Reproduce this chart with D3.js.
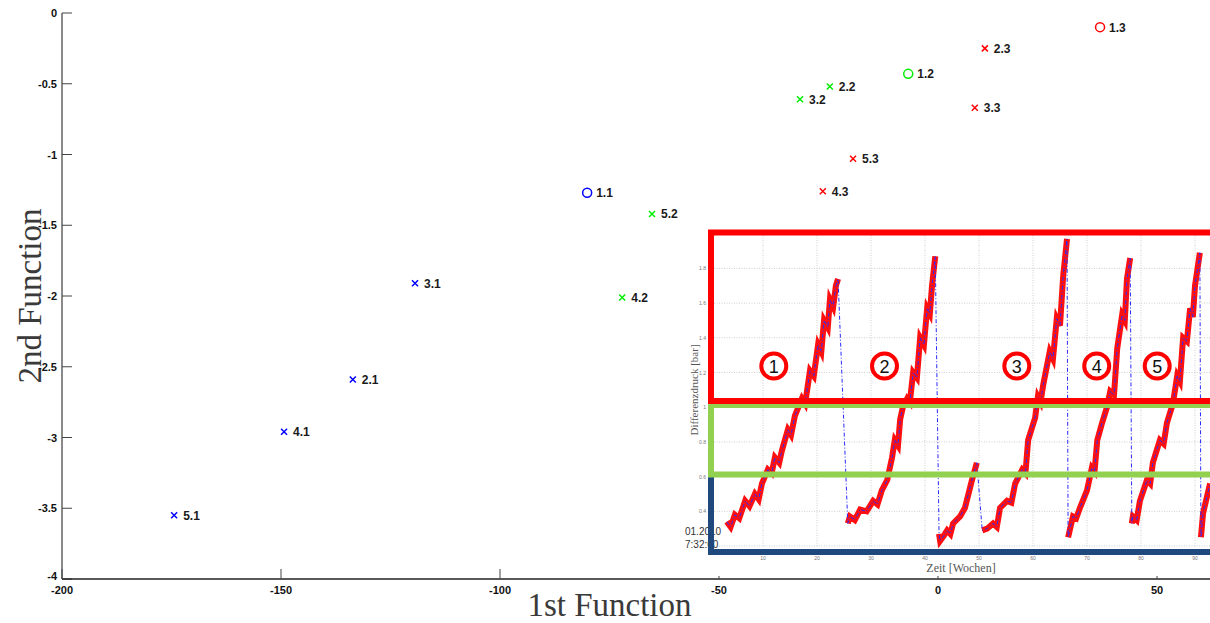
<!DOCTYPE html>
<html>
<head>
	<meta charset="utf-8">
	<title>1st / 2nd Function</title>
	<style type="text/css">
		body{
			margin: 0;
			background-color: #fff;
		}
		svg{
			display: block;
			background-color: #fff;
		}
		.tickLabel{
			font-family: "Liberation Sans", Arial, sans-serif;
			font-weight: bold;
			font-size: 11px;
			fill: #111;
		}
		.ptLabel{
			font-family: "Liberation Sans", Arial, sans-serif;
			font-weight: bold;
			font-size: 12px;
			fill: #1a1a1a;
		}
		.axisTitle{
			font-family: "Liberation Serif", "DejaVu Serif", serif;
			font-size: 33px;
			fill: #3a3a3a;
		}
		.inTick{
			font-family: "Liberation Sans", Arial, sans-serif;
			font-size: 5px;
			fill: #777;
		}
		.inTitle{
			font-family: "Liberation Serif", serif;
			font-size: 11px;
			fill: #555;
		}
	</style>
	<script type="text/javascript" src="https://cdn.jsdelivr.net/npm/d3@7"></script>
</head>
<body>
<div id="chart"></div>

<script type="text/javascript">
	// scatter points (1st function, 2nd function)
	var labels = ['1.1', '2.1', '3.1', '4.1', '5.1',
		'1.2', '2.2', '3.2', '4.2', '5.2',
		'1.3', '2.3', '3.3', '4.3', '5.3'];
	var xVals = [-80.1, -133.6, -119.4, -149.3, -174.4,
		-6.8, -24.7, -31.5, -72.1, -65.3,
		37.0, 10.7, 8.4, -26.3, -19.4];
	var yVals = [-1.27, -2.59, -1.91, -2.96, -3.55,
		-0.43, -0.52, -0.61, -2.01, -1.42,
		-0.10, -0.25, -0.67, -1.26, -1.03];
	var groups = [1, 1, 1, 1, 1, 2, 2, 2, 2, 2, 3, 3, 3, 3, 3];
	var xTicks = [-200, -150, -100, -50, 0, 50];
	var yTicks = [0, -0.5, -1, -1.5, -2, -2.5, -3, -3.5, -4];

	// inset: Differenzdruck [bar] over Zeit [Wochen], one array per rise
	var rises = [
		[[3.3,0.34],[4.0,0.31],[4.8,0.38],[5.6,0.36],[6.7,0.46],[7.5,0.43],[8.5,0.50],[9.2,0.47],[9.8,0.56],[10.9,0.64],[11.6,0.62],[12.2,0.71],[13.0,0.68],[13.5,0.75],[14.6,0.87],[15.2,0.84],[15.9,0.95],[17.2,1.05],[17.8,1.02],[18.7,1.21],[19.4,1.18],[20.2,1.36],[20.8,1.32],[21.3,1.50],[22.0,1.46],[22.4,1.62],[23.0,1.58],[23.5,1.70],[23.9,1.74]],
		[[25.7,0.33],[26.1,0.37],[27.0,0.35],[28.0,0.41],[29.2,0.40],[30.4,0.46],[31.2,0.44],[32.0,0.52],[33.0,0.58],[33.9,0.71],[34.4,0.81],[35.0,0.78],[35.4,0.93],[35.9,1.00],[36.7,1.05],[37.2,1.03],[37.8,1.20],[38.5,1.17],[39.1,1.40],[39.8,1.36],[40.4,1.57],[40.9,1.54],[41.3,1.70],[41.9,1.87]],
		[[42.6,0.27],[42.8,0.23],[43.5,0.26],[44.1,0.29],[44.7,0.27],[45.2,0.33],[46.5,0.37],[47.4,0.42],[48.7,0.58],[49.6,0.68]],
		[[50.6,0.29],[51.5,0.30],[52.6,0.33],[53.3,0.31],[53.9,0.42],[55.2,0.46],[56.0,0.45],[56.7,0.56],[58.0,0.64],[58.6,0.62],[59.1,0.81],[60.4,0.94],[60.9,1.06],[61.4,1.03],[61.9,1.13],[63.1,1.32],[63.7,1.28],[64.4,1.51],[65.0,1.47],[65.6,1.76],[66.3,1.97]],
		[[66.5,0.25],[67.4,0.37],[68.0,0.36],[68.7,0.42],[70.0,0.52],[70.9,0.65],[71.4,0.63],[71.9,0.81],[72.8,0.91],[73.7,1.00],[74.3,1.09],[75.0,1.07],[75.6,1.34],[76.5,1.53],[77.0,1.50],[77.4,1.74],[78.0,1.86]],
		[[78.3,0.33],[78.5,0.37],[79.2,0.35],[79.8,0.46],[81.1,0.58],[81.7,0.56],[82.2,0.68],[83.5,0.81],[84.2,0.79],[84.8,0.91],[85.9,1.02],[86.7,1.18],[87.2,1.15],[87.8,1.40],[88.5,1.38],[89.1,1.57],[89.6,1.52],[90.0,1.70],[90.9,1.89]],
		[[91.1,0.25],[91.5,0.39],[92.8,0.56]]
	];
	var inXTicks = [10, 20, 30, 40, 50, 60, 70, 80, 90];
	var inYTicks = [0.2, 0.4, 0.6, 0.8, 1, 1.2, 1.4, 1.6, 1.8];
	var phases = ['1', '2', '3', '4', '5'];
	var phaseWeeks = [12, 32.5, 57, 71.8, 83];

	var width = 1210, height = 623;
	var cScale = {1: '#0000ff', 2: '#00ee00', 3: '#ff0000'};

	var svg = d3.select('#chart')
		.append('svg')
		.attr('width', width)
		.attr('height', height);

	var xScale = d3.scaleLinear().domain([-200, 50]).range([62, 1157]);
	var yScale = d3.scaleLinear().domain([-4, 0]).range([579, 13]);

	// y axis (grey line, ticks pointing inwards)
	svg.append('line')
		.attr('x1', xScale(-200)).attr('x2', xScale(-200))
		.attr('y1', yScale(0)).attr('y2', yScale(-4))
		.attr('stroke', '#8a8a8a').attr('stroke-width', 2);
	svg.selectAll('.yTick')
		.data(yTicks)
		.enter()
		.append('line')
		.attr('class', 'yTick')
		.attr('x1', xScale(-200)).attr('x2', xScale(-200) + 10)
		.attr('y1', function(d){ return yScale(d); })
		.attr('y2', function(d){ return yScale(d); })
		.attr('stroke', '#444').attr('stroke-width', 1);
	svg.selectAll('.yLab')
		.data(yTicks)
		.enter()
		.append('text')
		.attr('class', 'tickLabel')
		.attr('x', xScale(-200) - 5)
		.attr('y', function(d){ return yScale(d) + 4 - (d == -4 ? 3 : 0); })
		.attr('text-anchor', 'end')
		.text(function(d){ return d; });

	// x axis
	svg.append('line')
		.attr('x1', xScale(-200)).attr('x2', width)
		.attr('y1', yScale(-4)).attr('y2', yScale(-4))
		.attr('stroke', '#222').attr('stroke-width', 1.5);
	svg.selectAll('.xTick')
		.data(xTicks)
		.enter()
		.append('line')
		.attr('class', 'xTick')
		.attr('x1', function(d){ return xScale(d); })
		.attr('x2', function(d){ return xScale(d); })
		.attr('y1', yScale(-4)).attr('y2', yScale(-4) - 10)
		.attr('stroke', '#444').attr('stroke-width', 1);
	svg.selectAll('.xLab')
		.data(xTicks)
		.enter()
		.append('text')
		.attr('class', 'tickLabel')
		.attr('x', function(d){ return xScale(d); })
		.attr('y', yScale(-4) + 15)
		.attr('text-anchor', 'middle')
		.text(function(d){ return d; });

	svg.append('text')
		.attr('class', 'axisTitle')
		.attr('text-anchor', 'middle')
		.attr('transform', 'translate(41,' + ((yScale(0) + yScale(-4)) / 2) + ') rotate(-90)')
		.text('2nd Function');
	svg.append('text')
		.attr('class', 'axisTitle')
		.attr('x', (xScale(-200) + xScale(50)) / 2)
		.attr('y', 616)
		.attr('text-anchor', 'middle')
		.text('1st Function');

	// points: first of each group is a circle, the rest crosses
	var pts = labels.map(function(l, i){
		return {label: l, x: xVals[i], y: yVals[i], g: groups[i], circle: l.charAt(0) == '1'};
	});
	var pg = svg.selectAll('.pt')
		.data(pts)
		.enter()
		.append('g')
		.attr('class', 'pt')
		.attr('transform', function(d){ return 'translate(' + xScale(d.x) + ',' + yScale(d.y) + ')'; });
	pg.filter(function(d){ return d.circle; })
		.append('circle')
		.attr('r', 4.5)
		.attr('fill', 'none')
		.attr('stroke', function(d){ return cScale[d.g]; })
		.attr('stroke-width', 1.5);
	pg.filter(function(d){ return !d.circle; })
		.append('path')
		.attr('d', 'M-3,-3L3,3M-3,3L3,-3')
		.attr('fill', 'none')
		.attr('stroke', function(d){ return cScale[d.g]; })
		.attr('stroke-width', 1.5);
	pg.append('text')
		.attr('class', 'ptLabel')
		.attr('x', 9)
		.attr('y', 4.5)
		.text(function(d){ return d.label; });

	// ---- inset picture ----
	var ins = svg.append('g').attr('id', 'inset');
	ins.append('rect')
		.attr('x', 682).attr('y', 226)
		.attr('width', width - 682).attr('height', 350)
		.attr('fill', '#fff');

	var ix = d3.scaleLinear().domain([0, 100]).range([709, 1249]);
	var iy = d3.scaleLinear().domain([0.2, 2.0]).range([546, 233.7]);

	ins.selectAll('.vGrid')
		.data(inXTicks)
		.enter()
		.append('line')
		.attr('x1', function(d){ return ix(d); })
		.attr('x2', function(d){ return ix(d); })
		.attr('y1', iy(0.2)).attr('y2', iy(2.0))
		.attr('stroke', '#cfcfcf').attr('stroke-dasharray', '1,1.5');
	ins.selectAll('.hGrid')
		.data(inYTicks)
		.enter()
		.append('line')
		.attr('x1', ix(0)).attr('x2', width)
		.attr('y1', function(d){ return iy(d); })
		.attr('y2', function(d){ return iy(d); })
		.attr('stroke', '#cfcfcf').attr('stroke-dasharray', '1,1.5');
	ins.selectAll('.ixLab')
		.data(inXTicks)
		.enter()
		.append('text')
		.attr('class', 'inTick')
		.attr('x', function(d){ return ix(d); })
		.attr('y', 560)
		.attr('text-anchor', 'middle')
		.text(function(d){ return d; });
	ins.selectAll('.iyLab')
		.data(inYTicks.slice(1))
		.enter()
		.append('text')
		.attr('class', 'inTick')
		.attr('x', 706)
		.attr('y', function(d){ return iy(d) + 2; })
		.attr('text-anchor', 'end')
		.text(function(d){ return d; });

	var line = d3.line()
		.x(function(d){ return ix(d[0]); })
		.y(function(d){ return iy(d[1]); });

	ins.selectAll('.rise')
		.data(rises)
		.enter()
		.append('path')
		.attr('class', 'rise')
		.attr('d', line)
		.attr('fill', 'none')
		.attr('stroke', '#ff1010')
		.attr('stroke-width', 6)
		.attr('stroke-linejoin', 'miter');
	ins.append('path')
		.attr('d', line(d3.merge(rises)))
		.attr('fill', 'none')
		.attr('stroke', '#2a2aff')
		.attr('stroke-width', 1)
		.attr('stroke-dasharray', '4,2,1,2');

	ins.append('text')
		.attr('class', 'inTitle')
		.attr('transform', 'translate(698,390) rotate(-90)')
		.attr('text-anchor', 'middle')
		.text('Differenzdruck [bar]');
	ins.append('text')
		.attr('class', 'inTitle')
		.attr('x', 961).attr('y', 572)
		.attr('text-anchor', 'middle')
		.style('font-size', '12px')
		.text('Zeit [Wochen]');
	ins.append('text')
		.attr('class', 'inTitle')
		.attr('x', 685).attr('y', 535)
		.style('font-family', 'Liberation Sans, Arial, sans-serif')
		.style('font-size', '10px')
		.style('fill', '#333')
		.text('01.2010');
	ins.append('text')
		.attr('class', 'inTitle')
		.attr('x', 685).attr('y', 548)
		.style('font-family', 'Liberation Sans, Arial, sans-serif')
		.style('font-size', '10px')
		.style('fill', '#333')
		.text('7:32:00');

	// coloured frames
	ins.append('path')
		.attr('d', 'M' + (width + 5) + ',552H711V475')
		.attr('fill', 'none').attr('stroke', '#1f497d').attr('stroke-width', 6);
	ins.append('path')
		.attr('d', 'M' + (width + 5) + ',474.5H711V405H' + (width + 5))
		.attr('fill', 'none').attr('stroke', '#92d050').attr('stroke-width', 6);
	ins.append('path')
		.attr('d', 'M' + (width + 5) + ',401H711V232.5H' + (width + 5))
		.attr('fill', 'none').attr('stroke', '#ff0000').attr('stroke-width', 6);

	// circled numbers
	var ph = ins.selectAll('.phase')
		.data(phases)
		.enter()
		.append('g')
		.attr('class', 'phase')
		.attr('transform', function(d, i){ return 'translate(' + ix(phaseWeeks[i]) + ',366)'; });
	ph.append('circle')
		.attr('r', 12.5)
		.attr('fill', '#fff')
		.attr('stroke', '#ff0000')
		.attr('stroke-width', 4);
	ph.append('text')
		.attr('y', 6.5)
		.attr('text-anchor', 'middle')
		.style('font-family', 'Liberation Sans, Arial, sans-serif')
		.style('font-size', '18px')
		.style('fill', '#111')
		.text(function(d){ return d; });
</script>
</body>
</html>
